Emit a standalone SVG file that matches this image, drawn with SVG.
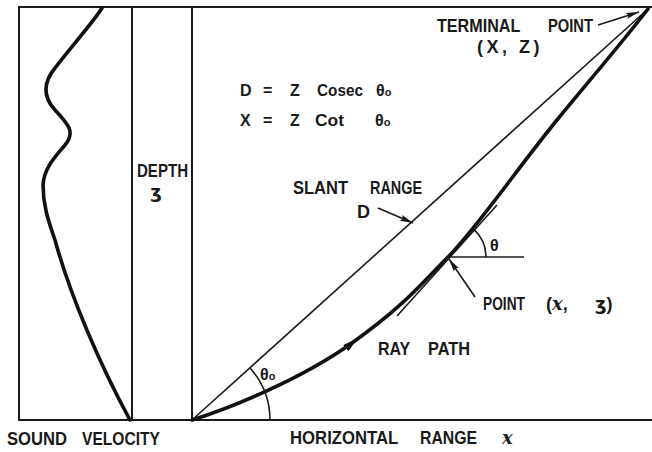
<svg xmlns="http://www.w3.org/2000/svg" width="652" height="452" viewBox="0 0 652 452">
<style>
.frame{stroke:#1a1a1a;stroke-width:2;fill:none;stroke-linecap:square}
.thin{stroke:#1a1a1a;stroke-width:1.6;fill:none}
.thick{stroke:#111;stroke-width:3.6;fill:none;stroke-linecap:round;stroke-linejoin:round}
.lbl{font-family:"Liberation Sans",Arial,sans-serif;font-weight:bold;font-size:18px;fill:#1a1a1a}
.eq{font-size:16px}
.scr{font-family:"DejaVu Serif","Liberation Serif",serif;font-style:italic;font-weight:bold}
.ezh{font-family:"DejaVu Sans",sans-serif;font-weight:bold}
.arr{stroke:#1a1a1a;stroke-width:1.6;fill:none;marker-end:url(#ah)}
</style>
<defs>
<marker id="ah" markerUnits="userSpaceOnUse" markerWidth="14" markerHeight="8" refX="13" refY="4" orient="auto">
<path d="M0,1 L13,4 L0,7 L2,4 z" fill="#1a1a1a"/>
</marker>
</defs>
<rect width="652" height="452" fill="#fff"/>
<g id="frame">
<line class="frame" x1="19" y1="7" x2="651" y2="7"/>
<line class="frame" x1="19" y1="420" x2="651" y2="420"/>
<line class="frame" x1="19" y1="7" x2="19" y2="420"/>
<line class="frame" x1="132" y1="7" x2="132" y2="420"/>
<line class="frame" x1="192" y1="7" x2="192" y2="420"/>
</g>
<g id="sound-velocity-profile">
<path class="thick" d="M102,8 C95,20 70,48 55,68 C42,84 44,98 55,110 C68,124 76,132 65,145 C55,157 44,168 43,185 C43,205 48,220 55,240 C70,295 100,365 130,420"/>
</g>
<g id="slant-range">
<line class="thin" x1="192" y1="420" x2="648" y2="9"/>
</g>
<g id="ray-path">
<path class="thick" d="M192,420 C230,408 300,380 352,343 S420,285 448,257 S520,165 557,120 S620,45 648,9"/>
<path d="M-8,-4 L7,0 L-8,4 z" fill="#111" transform="translate(352,343) rotate(-40)"/>
</g>
<g id="angles">
<path class="thin" d="M250,368 A78,78 0 0 1 270,420"/>
<line class="thin" x1="397" y1="316" x2="497" y2="205"/>
<line class="thin" x1="448" y1="257" x2="524" y2="257"/>
<path class="thin" d="M473.4,228.8 A38,38 0 0 1 486,257"/>
</g>
<g id="connectors">
<line class="arr" x1="598" y1="25" x2="639" y2="12"/>
<line class="arr" x1="378" y1="208" x2="413" y2="223"/>
<line class="arr" x1="475" y1="297" x2="449" y2="259"/>
</g>
<g id="labels">
<text id="terminal-point" class="lbl" y="32"><tspan x="437" textLength="83" lengthAdjust="spacingAndGlyphs">TERMINAL</tspan> <tspan x="548" textLength="45" lengthAdjust="spacingAndGlyphs">POINT</tspan></text>
<text class="lbl" x="477" y="53" letter-spacing="3.5">(X, Z)</text>
<text id="eq1" class="lbl eq" y="96"><tspan x="240">D</tspan> <tspan x="263">=</tspan> <tspan x="290">Z</tspan> <tspan x="317" textLength="46" lengthAdjust="spacingAndGlyphs">Cosec</tspan> <tspan x="376">θ</tspan><tspan font-size="11">o</tspan></text>
<text id="eq2" class="lbl eq" y="126"><tspan x="240">X</tspan> <tspan x="263">=</tspan> <tspan x="290">Z</tspan> <tspan x="315" textLength="29" lengthAdjust="spacingAndGlyphs">Cot</tspan> <tspan x="375">θ</tspan><tspan font-size="11">o</tspan></text>
<text id="depth" class="lbl" x="137" y="177" textLength="51" lengthAdjust="spacingAndGlyphs">DEPTH</text>
<text class="lbl ezh" x="156" y="198" text-anchor="middle" font-size="17">ʒ</text>
<text id="slant-label" class="lbl" y="194"><tspan x="293" textLength="55" lengthAdjust="spacingAndGlyphs">SLANT</tspan> <tspan x="370" textLength="52" lengthAdjust="spacingAndGlyphs">RANGE</tspan></text>
<text class="lbl" x="357" y="218">D</text>
<text id="theta" class="lbl eq" x="490" y="251">θ</text>
<text id="point-label" class="lbl" y="310"><tspan x="483" textLength="42" lengthAdjust="spacingAndGlyphs">POINT</tspan> <tspan x="546">(</tspan><tspan class="scr">x</tspan><tspan>,</tspan> <tspan x="595" class="ezh">ʒ</tspan><tspan>)</tspan></text>
<text id="ray-label" class="lbl" y="355"><tspan x="378" textLength="32" lengthAdjust="spacingAndGlyphs">RAY</tspan> <tspan x="428" textLength="42" lengthAdjust="spacingAndGlyphs">PATH</tspan></text>
<text id="theta0" class="lbl eq" x="260" y="380">θ<tspan font-size="11">o</tspan></text>
<text id="sound-velocity" class="lbl" y="445"><tspan x="7" textLength="60" lengthAdjust="spacingAndGlyphs">SOUND</tspan> <tspan x="82" textLength="78" lengthAdjust="spacingAndGlyphs">VELOCITY</tspan></text>
<text id="horizontal-range" class="lbl" y="444"><tspan x="290" textLength="108" lengthAdjust="spacingAndGlyphs">HORIZONTAL</tspan> <tspan x="420" textLength="57" lengthAdjust="spacingAndGlyphs">RANGE</tspan> <tspan x="502" class="scr">x</tspan></text>
</g>
</svg>
